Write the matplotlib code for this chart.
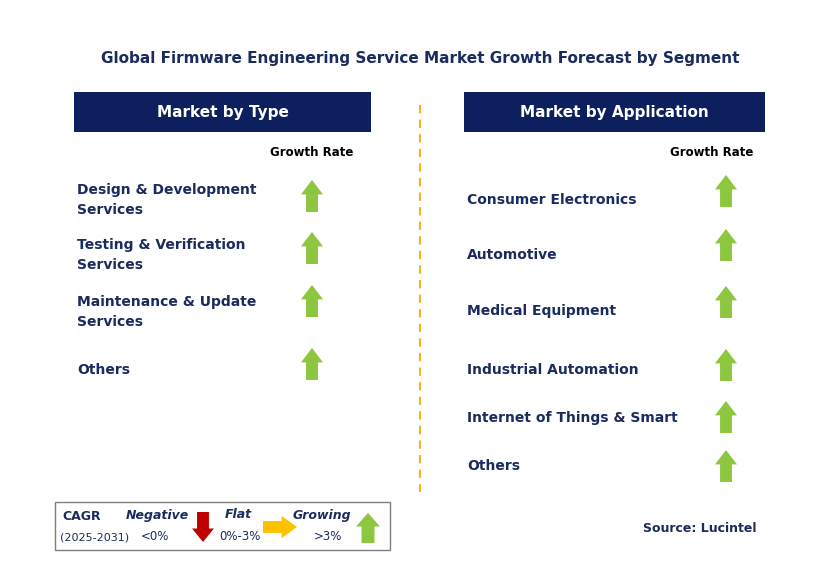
import matplotlib.pyplot as plt
from matplotlib.patches import Rectangle, Polygon

# data
title = 'Global Firmware Engineering Service Market Growth Forecast by Segment'
type_labels = ['Design & Development\nServices', 'Testing & Verification\nServices',
               'Maintenance & Update\nServices', 'Others']
type_trend = ['up', 'up', 'up', 'up']
app_labels = ['Consumer Electronics', 'Automotive', 'Medical Equipment',
              'Industrial Automation', 'Internet of Things & Smart', 'Others']
app_trend = ['up', 'up', 'up', 'up', 'up', 'up']

type_label_y = [200, 255, 312, 370]
type_arrow_y = [196, 248, 301, 364]
app_label_y = [200, 255, 311, 370, 418, 466]
app_arrow_y = [191, 245, 302, 365, 417, 466]

NAVY = '#0D1F5C'
TXT = '#1A2B5E'
GREEN = '#8DC63F'
RED = '#C00000'
ORANGE = '#FFC000'
FONT = 'DejaVu Sans'

fig = plt.figure(figsize=(8.29, 5.77), dpi=100)
ax = fig.add_axes([0, 0, 1, 1])
ax.set_xlim(0, 829)
ax.set_ylim(577, 0)
ax.axis('off')


def arrow(cx, cy, kind, color, h=32, w=22):
    hw = w / 2
    sw = w * 0.27
    hh = h * 0.45
    if kind == 'up':
        pts = [(cx, cy - h/2), (cx + hw, cy - h/2 + hh), (cx + sw, cy - h/2 + hh),
               (cx + sw, cy + h/2), (cx - sw, cy + h/2), (cx - sw, cy - h/2 + hh),
               (cx - hw, cy - h/2 + hh)]
    elif kind == 'down':
        pts = [(cx, cy + h/2), (cx + hw, cy + h/2 - hh), (cx + sw, cy + h/2 - hh),
               (cx + sw, cy - h/2), (cx - sw, cy - h/2), (cx - sw, cy + h/2 - hh),
               (cx - hw, cy + h/2 - hh)]
    else:
        pts = [(cx + h/2, cy), (cx + h/2 - hh, cy - hw), (cx + h/2 - hh, cy - sw),
               (cx - h/2, cy - sw), (cx - h/2, cy + sw), (cx + h/2 - hh, cy + sw),
               (cx + h/2 - hh, cy + hw)]
    ax.add_patch(Polygon(pts, closed=True, color=color, lw=0))


colors = {'up': GREEN, 'down': RED, 'right': ORANGE}

ax.text(420, 58, title, ha='center', va='center', fontsize=11, color=TXT,
        fontweight='bold', family=FONT)

# headers
for x0, x1, lab in [(74, 371, 'Market by Type'), (464, 765, 'Market by Application')]:
    ax.add_patch(Rectangle((x0, 92), x1 - x0, 40, color=NAVY, lw=0))
    ax.text((x0 + x1) / 2, 112, lab, ha='center', va='center', fontsize=11,
            color='white', fontweight='bold', family=FONT)

ax.text(312, 152, 'Growth Rate', ha='center', va='center', fontsize=8.5,
        fontweight='bold', color='black', family=FONT)
ax.text(712, 152, 'Growth Rate', ha='center', va='center', fontsize=8.5,
        fontweight='bold', color='black', family=FONT)

for lab, ly, ay, tr in zip(type_labels, type_label_y, type_arrow_y, type_trend):
    ax.text(77, ly, lab, ha='left', va='center', fontsize=10, fontweight='bold',
            color=TXT, family=FONT, linespacing=1.5)
    arrow(312, ay, tr, colors[tr])

for lab, ly, ay, tr in zip(app_labels, app_label_y, app_arrow_y, app_trend):
    ax.text(467, ly, lab, ha='left', va='center', fontsize=10, fontweight='bold',
            color=TXT, family=FONT)
    arrow(726, ay, tr, colors[tr])

ax.plot([420, 420], [105, 492], ls=(0, (4, 3)), color='#F5B323', lw=1.5)

# legend box
ax.add_patch(Rectangle((55, 502), 335, 48, fill=False, edgecolor='#7F7F7F', lw=1))
ax.text(62, 517, 'CAGR', fontsize=9, fontweight='bold', color=TXT, va='center', family=FONT)
ax.text(60, 537, '(2025-2031)', fontsize=8, color=TXT, va='center', family=FONT)
ax.text(157, 515, 'Negative', fontsize=9, fontweight='bold', style='italic', color=TXT,
        ha='center', va='center', family=FONT)
ax.text(155, 537, '<0%', fontsize=8.5, color=TXT, ha='center', va='center', family=FONT)
arrow(203, 527, 'down', RED, h=30, w=22)
ax.text(238, 515, 'Flat', fontsize=9, fontweight='bold', style='italic', color=TXT,
        ha='center', va='center', family=FONT)
ax.text(240, 537, '0%-3%', fontsize=8.5, color=TXT, ha='center', va='center', family=FONT)
arrow(280, 527, 'right', ORANGE, h=34, w=22)
ax.text(322, 515, 'Growing', fontsize=9, fontweight='bold', style='italic', color=TXT,
        ha='center', va='center', family=FONT)
ax.text(328, 537, '>3%', fontsize=8.5, color=TXT, ha='center', va='center', family=FONT)
arrow(368, 528, 'up', GREEN, h=30, w=24)

ax.text(700, 528, 'Source: Lucintel', fontsize=9, fontweight='bold', color=TXT,
        ha='center', va='center', family=FONT)

fig.savefig('out.png', dpi=100)
